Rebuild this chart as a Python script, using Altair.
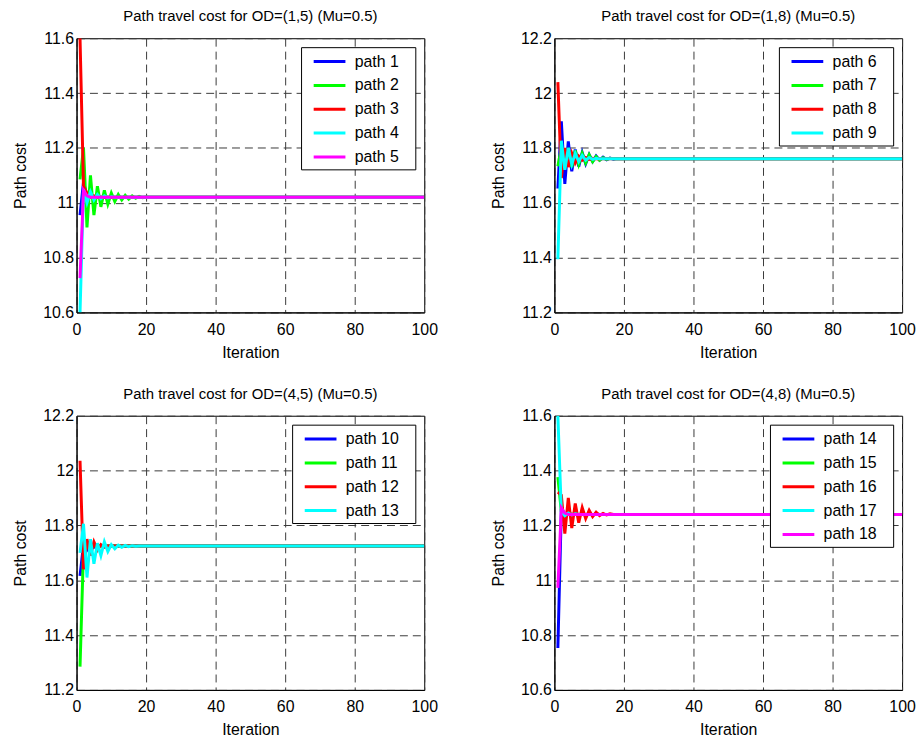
import altair as alt
import pandas as pd

FONT = "Liberation Sans"
COLORS = ["#0000ff", "#00ff00", "#ff0000", "#00ffff", "#ff00ff"]
LAST_ITER = 100
X_TICKS = [0, 20, 40, 60, 80, 100]

# ---- Panel 1: OD=(1,5) ----
p1_title = "Path travel cost for OD=(1,5) (Mu=0.5)"
p1_names = ["path 1", "path 2", "path 3", "path 4", "path 5"]
p1_path1 = [10.955, 11.075, 11.025, 11.03, 11.02, 11.022, 11.02]
p1_path2 = [11.085, 11.20, 10.91, 11.10, 10.955, 11.06, 10.985, 11.045, 10.995, 11.035,
            11.005, 11.03, 11.01, 11.027, 11.013, 11.025, 11.016, 11.023, 11.018, 11.021, 11.02]
p1_path3 = [11.6, 11.06, 11.035, 11.02, 11.025, 11.02]
p1_path4 = [10.6, 11.05, 11.0, 11.04, 11.01, 11.03, 11.015, 11.025, 11.018, 11.022, 11.02]
p1_path5 = [10.725, 11.045, 11.025, 11.02]
p1_final = [11.02, 11.02, 11.02, 11.02, 11.02]
p1_yticks = [10.6, 10.8, 11.0, 11.2, 11.4, 11.6]

# ---- Panel 2: OD=(1,8) ----
p2_title = "Path travel cost for OD=(1,8) (Mu=0.5)"
p2_names = ["path 6", "path 7", "path 8", "path 9"]
p2_path6 = [11.652, 11.897, 11.669, 11.824, 11.715, 11.794, 11.732, 11.783, 11.742, 11.775,
            11.75, 11.77, 11.755, 11.766, 11.757, 11.763, 11.759, 11.761, 11.76]
p2_path7 = [11.733, 11.80, 11.725, 11.80, 11.73, 11.79, 11.74, 11.78, 11.745, 11.775,
            11.75, 11.768, 11.755, 11.764, 11.758, 11.762, 11.76]
p2_path8 = [12.04, 11.69, 11.80, 11.73, 11.78, 11.745, 11.77, 11.755, 11.765, 11.758, 11.762, 11.76]
p2_path9 = [11.394, 11.826, 11.72, 11.80, 11.74, 11.78, 11.75, 11.772, 11.755, 11.765, 11.758, 11.762, 11.76]
p2_final = [11.76, 11.76, 11.76, 11.76]
p2_yticks = [11.2, 11.4, 11.6, 11.8, 12.0, 12.2]

# ---- Panel 3: OD=(4,5) ----
p3_title = "Path travel cost for OD=(4,5) (Mu=0.5)"
p3_names = ["path 10", "path 11", "path 12", "path 13"]
p3_path10 = [11.616, 11.73, 11.71, 11.73, 11.72, 11.725]
p3_path11 = [11.285, 11.71, 11.73, 11.72, 11.725]
p3_path12 = [12.036, 11.64, 11.75, 11.69, 11.74, 11.71, 11.73, 11.72, 11.725]
p3_path13 = [11.70, 11.806, 11.61, 11.75, 11.66, 11.735, 11.69, 11.74, 11.705, 11.73,
             11.715, 11.728, 11.72, 11.727, 11.722, 11.726, 11.724, 11.725]
p3_final = [11.725, 11.725, 11.725, 11.725]
p3_yticks = [11.2, 11.4, 11.6, 11.8, 12.0, 12.2]

# ---- Panel 4: OD=(4,8) ----
p4_title = "Path travel cost for OD=(4,8) (Mu=0.5)"
p4_names = ["path 14", "path 15", "path 16", "path 17", "path 18"]
p4_path14 = [10.753, 11.26, 11.235, 11.245, 11.24]
p4_path15 = [11.376, 11.25, 11.22, 11.26, 11.225, 11.255, 11.23, 11.25, 11.235, 11.245, 11.238, 11.242, 11.24]
p4_path16 = [11.321, 11.31, 11.17, 11.30, 11.19, 11.28, 11.21, 11.265, 11.225, 11.255,
             11.232, 11.248, 11.236, 11.244, 11.238, 11.242, 11.24]
p4_path17 = [11.60, 11.25, 11.235, 11.245, 11.238, 11.242, 11.24]
p4_path18 = [10.972, 11.264, 11.245, 11.24]
p4_final = [11.24, 11.24, 11.24, 11.24, 11.24]
p4_yticks = [10.6, 10.8, 11.0, 11.2, 11.4, 11.6]


def panel(title, names, series, finals, yticks):
    rows = []
    for name, vals, fin in zip(names, series, finals):
        for i, v in enumerate(vals, start=1):
            rows.append({"path": name, "iteration": i, "cost": v})
        rows.append({"path": name, "iteration": LAST_ITER, "cost": fin})
    df = pd.DataFrame(rows)
    color = alt.Color(
        "path:N",
        scale=alt.Scale(domain=names, range=COLORS[: len(names)]),
        legend=alt.Legend(title=None, labelExpr="datum.label + '\u2800'"),
    )
    x = alt.X(
        "iteration:Q",
        scale=alt.Scale(domain=[0, 100], nice=False),
        axis=alt.Axis(values=X_TICKS, title="Iteration"),
    )
    y = alt.Y(
        "cost:Q",
        scale=alt.Scale(domain=[yticks[0], yticks[-1]], nice=False, zero=False),
        axis=alt.Axis(values=yticks, format="~g", title="Path cost"),
    )
    layers = [
        alt.Chart(df)
        .transform_filter(alt.datum.path == name)
        .mark_line(strokeWidth=3, clip=True)
        .encode(x=x, y=y, color=color)
        for name in names
    ]
    return alt.layer(*layers).properties(width=350, height=276, title=title)


c1 = panel(p1_title, p1_names, [p1_path1, p1_path2, p1_path3, p1_path4, p1_path5], p1_final, p1_yticks)
c2 = panel(p2_title, p2_names, [p2_path6, p2_path7, p2_path8, p2_path9], p2_final, p2_yticks)
c3 = panel(p3_title, p3_names, [p3_path10, p3_path11, p3_path12, p3_path13], p3_final, p3_yticks)
c4 = panel(p4_title, p4_names, [p4_path14, p4_path15, p4_path16, p4_path17, p4_path18], p4_final, p4_yticks)

chart = (
    alt.concat(c1, c2, c3, c4, columns=2, spacing={"row": 104, "column": 131}, bounds="flush")
    .resolve_scale(color="independent", x="independent", y="independent")
    .properties(padding={"left": 4, "top": -2, "right": 0, "bottom": 0}, background="white")
    .configure_view(stroke="black", strokeWidth=1)
    .configure_axis(
        labelFont=FONT, labelFontSize=16, labelColor="black",
        titleFont=FONT, titleFontSize=16, titleFontWeight="normal", titleColor="black",
        grid=True, gridColor="#3a3a3a", gridDash=[8, 5], gridWidth=1,
        ticks=False, tickSize=0, domainColor="black", domainWidth=1,
    )
    .configure_axisX(labelPadding=9, titlePadding=7, labelFlush=False)
    .configure_axisY(labelPadding=3, titlePadding=4, minExtent=44, maxExtent=44)
    .configure_title(font=FONT, fontSize=15, fontWeight="normal", color="black", offset=6, anchor="middle")
    .configure_legend(
        orient="top-right", offset=9, fillColor="white", strokeColor="black",
        padding=4, symbolType="M-0.2,0H3.35", symbolSize=324, symbolStrokeWidth=3,
        labelFont=FONT, labelFontSize=16, labelColor="black", rowPadding=5, labelOffset=29,
    )
)

chart.save("out.html", embed_options={"renderer": "svg", "actions": False})
